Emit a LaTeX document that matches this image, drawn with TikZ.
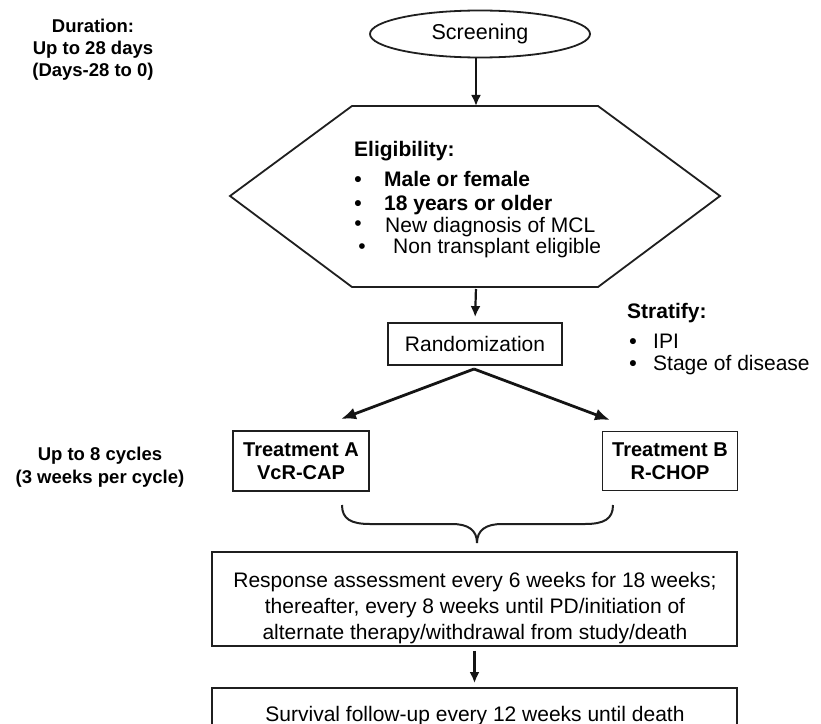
\documentclass[tikz,border=0pt]{standalone}
\usepackage{fontspec}
\setmainfont{Liberation Sans}
\usetikzlibrary{shapes.geometric,arrows.meta}
\begin{document}
\begin{tikzpicture}[x=1bp,y=-1bp,
  ln/.style={draw=black!88, line width=1.8bp},
  box/.style={ln, rectangle, inner sep=0pt},
  txt/.style={font=\fontsize{21bp}{26bp}\selectfont, inner sep=0pt},
  btxt/.style={font=\fontsize{21bp}{23bp}\selectfont\bfseries, inner sep=0pt},
  trtxt/.style={font=\fontsize{20bp}{23bp}\selectfont\bfseries, inner sep=0pt, align=center},
  lab/.style={font=\fontsize{18.5bp}{22bp}\selectfont\bfseries, inner sep=0pt, align=center},
  arr/.style={draw=black!92, line width=2.2bp, -{Latex[length=11bp,width=10bp]}},
  darr/.style={draw=black!92, line width=2.8bp, -{Latex[length=15bp,width=12bp]}},
]
\useasboundingbox (0,0) rectangle (821,724);
\clip (0,0) rectangle (821,724);
\fill[white] (0,0) rectangle (821,724);

% left labels
\node[lab] (dur) at (93,50) {Duration:\\Up to 28 days\\(Days-28 to 0)};
\node[lab, font=\fontsize{18.5bp}{23bp}\selectfont\bfseries] (cyc) at (100,467) {Up to 8 cycles\\(3 weeks per cycle)};

% screening
\node[ellipse, ln, minimum width=220bp, minimum height=47bp, inner sep=0pt,
      font=\fontsize{21.5bp}{26bp}\selectfont] (screen) at (480,34) {Screening};

% eligibility hexagon
\draw[ln] (352,106) -- (598,106) -- (720,196) -- (598,287) -- (352,287) -- (230,196) -- cycle;
\coordinate (hexT) at (476,106);
\coordinate (hexB) at (476,287);

\node[btxt, anchor=base west] (elig) at (354,157) {Eligibility:};
\node[btxt, anchor=base] (b1) at (358,186) {•};
\node[btxt, anchor=base west] (e1) at (384,186) {Male or female};
\node[btxt, anchor=base] (b2) at (358,210) {•};
\node[btxt, anchor=base west] (e2) at (384,210) {18 years or older};
\node[txt, anchor=base] (b3) at (358,230) {•};
\node[txt, anchor=base west] (e3) at (385,232) {New diagnosis of MCL};
\node[txt, anchor=base] (b4) at (362,253) {•};
\node[txt, anchor=base west] (e4) at (393,253) {Non transplant eligible};

% randomization
\node[box, minimum width=174bp, minimum height=42bp, txt] (rand) at (475,344) {Randomization};

% stratify
\node[btxt, anchor=base west] (strat) at (627,318) {Stratify:};
\node[btxt, anchor=base] (sb1) at (633,348) {•};
\node[txt, anchor=base west] (s1) at (653,348) {IPI};
\node[btxt, anchor=base] (sb2) at (633,370) {•};
\node[txt, anchor=base west] (s2) at (653,370) {Stage of disease};

% treatments
\node[box, minimum width=136bp, minimum height=60bp, trtxt] (trA) at (301,461) {Treatment A\\VcR-CAP};
\node[box, minimum width=135bp, minimum height=59bp, trtxt] (trB) at (670,461) {Treatment B\\R-CHOP};

\coordinate (randS) at (474,369);
\coordinate (tipA) at (341,419);
\coordinate (tipB) at (610,420);

% brace
\coordinate (brL) at (342,505);
\coordinate (brR) at (613,505);
\coordinate (brT) at (477,543);
\draw[draw=black!88, line width=2bp, line join=miter]
  (brL) .. controls (342,519) and (351,524) .. (370,524) -- (452,524)
  .. controls (468,524) and (477,530) .. (brT)
  .. controls (477,530) and (486,524) .. (502,524) -- (585,524)
  .. controls (604,524) and (613,519) .. (brR);

% response
\node[box, minimum width=525bp, minimum height=94bp] (resp) at (474.5,599) {};
\node[txt, align=center] (resptext) at (475,608.5) {Response assessment every 6 weeks for 18 weeks;\\thereafter, every 8 weeks until PD/initiation of\\alternate therapy/withdrawal from study/death};

% survival
\node[box, minimum width=525bp, minimum height=72bp] (surv) at (474.5,724) {};
\node[txt, anchor=base] (survtext) at (475,721) {Survival follow-up every 12 weeks until death};

% connectors
\draw[arr] (hexT |- screen.south) -- (hexT);
\draw[arr, shorten <=2bp, shorten >=5bp] (hexB) -- (rand.north);
\draw[darr] (randS) -- (tipA);
\draw[darr] (randS) -- (tipB);
\draw[arr, shorten <=4bp, shorten >=4bp] (resp.south) -- (surv.north);
\end{tikzpicture}
\end{document}
